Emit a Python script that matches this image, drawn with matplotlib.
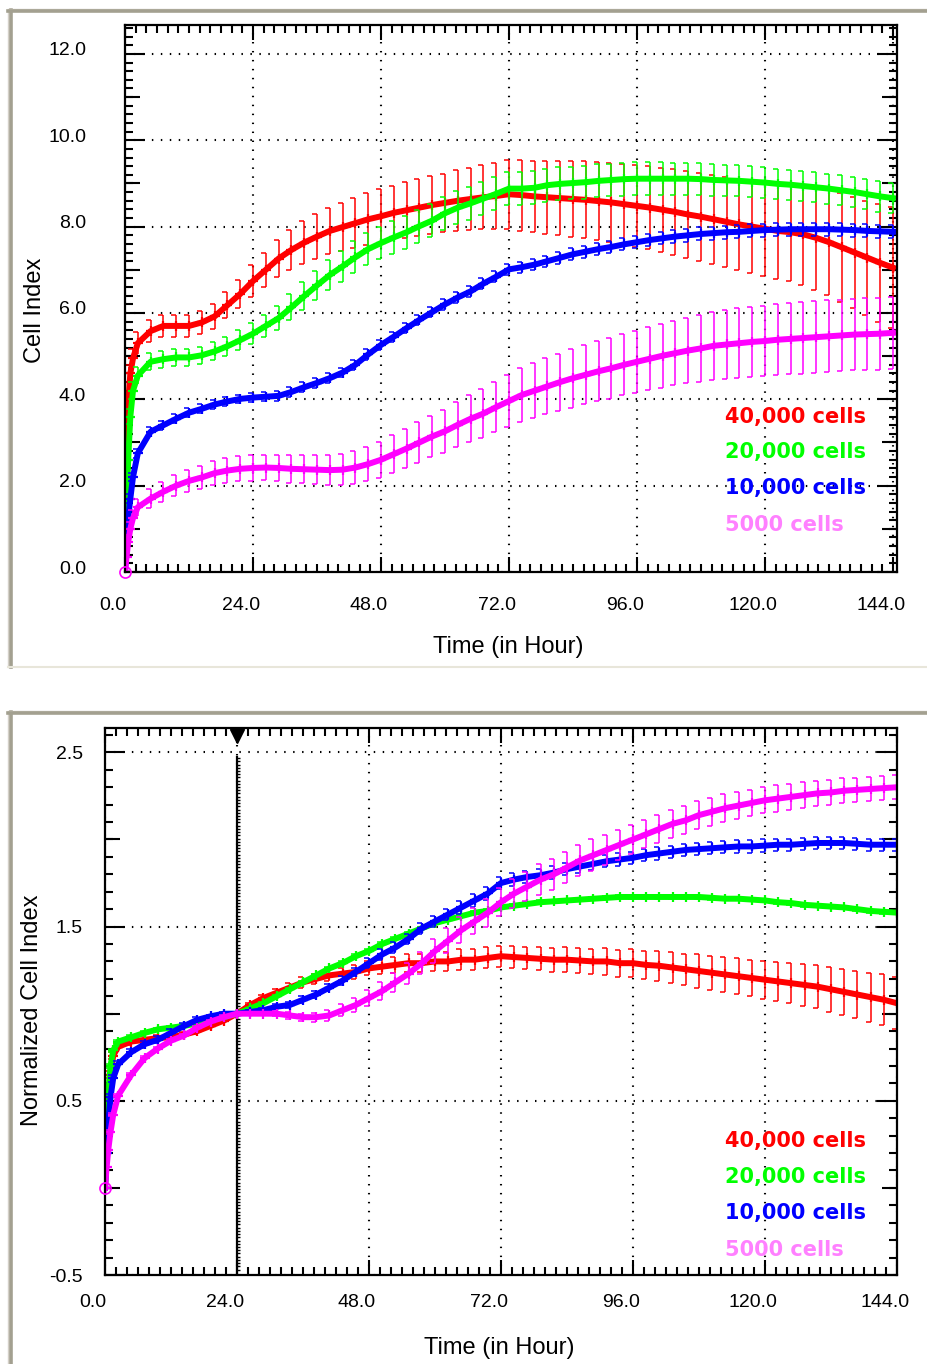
import numpy as np
import matplotlib
matplotlib.use('Agg')
import matplotlib.pyplot as plt
from matplotlib.lines import Line2D
from matplotlib.ticker import MultipleLocator, FormatStrFormatter
from matplotlib.transforms import ScaledTranslation

plt.rcParams['font.family'] = ['Liberation Sans', 'DejaVu Sans']

##########
# Data   #
##########
# sampling times (hours)
hours = [0.0, 0.3, 0.6, 1.0, 1.5,
         2.4, 4.8, 7.2, 9.6, 12.0, 14.4, 16.8, 19.2, 21.6, 24.0,
         26.4, 28.8, 31.2, 33.6, 36.0, 38.4, 40.8, 43.2, 45.6, 48.0,
         50.4, 52.8, 55.2, 57.6, 60.0, 62.4, 64.8, 67.2, 69.6, 72.0,
         74.4, 76.8, 79.2, 81.6, 84.0, 86.4, 88.8, 91.2, 93.6, 96.0,
         98.4, 100.8, 103.2, 105.6, 108.0, 110.4, 112.8, 115.2, 117.6, 120.0,
         122.4, 124.8, 127.2, 129.6, 132.0, 134.4, 136.8, 139.2, 141.6, 144.0]

labels = ['40,000 cells', '20,000 cells', '10,000 cells', '5000 cells']
norm_time = 24.0

# cell index, mean and sd
ci_40k = [0.0, 3.0, 3.9, 4.6, 4.95,
          5.3, 5.58, 5.7, 5.7, 5.7, 5.78, 5.92, 6.18, 6.44, 6.74,
          7.0, 7.26, 7.46, 7.63, 7.77, 7.9, 7.99, 8.08, 8.17, 8.24,
          8.32, 8.38, 8.44, 8.5, 8.55, 8.6, 8.64, 8.68, 8.71, 8.75,
          8.73, 8.7, 8.68, 8.66, 8.64, 8.62, 8.59, 8.56, 8.52, 8.48,
          8.44, 8.39, 8.34, 8.28, 8.23, 8.17, 8.11, 8.05, 8.0, 7.95,
          7.9, 7.87, 7.82, 7.74, 7.64, 7.52, 7.4, 7.28, 7.16, 7.05]
ci_40k_sd = [0.0, 0.15, 0.2, 0.2, 0.22,
             0.25, 0.25, 0.25, 0.25, 0.25, 0.26, 0.28, 0.3, 0.33, 0.36,
             0.4, 0.43, 0.46, 0.5, 0.52, 0.54, 0.56, 0.58, 0.6, 0.62,
             0.63, 0.65, 0.66, 0.67, 0.68, 0.7, 0.72, 0.74, 0.77, 0.8,
             0.82, 0.83, 0.84, 0.86, 0.88, 0.89, 0.9, 0.92, 0.93, 0.95,
             0.96, 0.97, 0.99, 1.0, 1.02, 1.03, 1.05, 1.06, 1.08, 1.1,
             1.12, 1.14, 1.17, 1.2, 1.23, 1.26, 1.29, 1.32, 1.36, 1.4]

ci_20k = [0.0, 1.6, 2.6, 3.6, 4.2,
          4.55, 4.87, 4.93, 4.97, 4.97, 5.02, 5.11, 5.23, 5.37, 5.52,
          5.7, 5.88, 6.13, 6.39, 6.64, 6.88, 7.08, 7.29, 7.48, 7.62,
          7.75, 7.87, 8.01, 8.14, 8.31, 8.44, 8.54, 8.65, 8.76, 8.88,
          8.88, 8.9, 8.96, 8.99, 9.01, 9.03, 9.06, 9.08, 9.1, 9.11,
          9.11, 9.11, 9.11, 9.11, 9.1, 9.08, 9.07, 9.06, 9.04, 9.02,
          8.99, 8.97, 8.94, 8.91, 8.88, 8.84, 8.8, 8.75, 8.7, 8.66]
ci_20k_sd = [0.0, 0.1, 0.15, 0.18, 0.2,
             0.2, 0.2, 0.2, 0.2, 0.2, 0.2, 0.21, 0.22, 0.23, 0.25,
             0.26, 0.28, 0.3, 0.32, 0.34, 0.35, 0.36, 0.37, 0.38, 0.38,
             0.38, 0.38, 0.38, 0.38, 0.38, 0.38, 0.38, 0.38, 0.38, 0.38,
             0.38, 0.38, 0.38, 0.38, 0.38, 0.38, 0.38, 0.38, 0.38, 0.38,
             0.38, 0.38, 0.37, 0.37, 0.37, 0.36, 0.36, 0.36, 0.36, 0.35,
             0.35, 0.35, 0.35, 0.35, 0.35, 0.35, 0.35, 0.35, 0.35, 0.35]

ci_10k = [0.0, 0.8, 1.25, 1.7, 2.2,
          2.75, 3.25, 3.4, 3.55, 3.69, 3.78, 3.88, 3.95, 4.01, 4.04,
          4.06, 4.08, 4.17, 4.28, 4.38, 4.49, 4.62, 4.8, 5.04, 5.26,
          5.45, 5.65, 5.84, 6.02, 6.2, 6.36, 6.5, 6.68, 6.84, 7.01,
          7.06, 7.12, 7.2, 7.28, 7.36, 7.42, 7.48, 7.53, 7.59, 7.64,
          7.69, 7.73, 7.77, 7.8, 7.83, 7.85, 7.87, 7.88, 7.9, 7.92,
          7.93, 7.94, 7.94, 7.94, 7.94, 7.93, 7.92, 7.9, 7.89, 7.88]
ci_10k_sd = [0.0, 0.05, 0.08, 0.1, 0.1,
             0.1, 0.1, 0.1, 0.1, 0.1, 0.1, 0.1, 0.1, 0.1, 0.1,
             0.11, 0.11, 0.11, 0.11, 0.11, 0.11, 0.11, 0.11, 0.12, 0.12,
             0.12, 0.12, 0.12, 0.12, 0.12, 0.13, 0.13, 0.13, 0.13, 0.13,
             0.13, 0.13, 0.13, 0.14, 0.14, 0.14, 0.14, 0.14, 0.14, 0.14,
             0.14, 0.14, 0.15, 0.15, 0.15, 0.15, 0.15, 0.15, 0.15, 0.15,
             0.15, 0.15, 0.15, 0.15, 0.15, 0.15, 0.15, 0.15, 0.15, 0.15]

ci_5k = [0.0, 0.35, 0.7, 1.0, 1.25,
         1.5, 1.7, 1.86, 2.0, 2.11, 2.19, 2.29, 2.35, 2.39, 2.41,
         2.42, 2.41, 2.39, 2.38, 2.37, 2.36, 2.37, 2.42, 2.5, 2.6,
         2.73, 2.86, 3.0, 3.14, 3.26, 3.41, 3.55, 3.67, 3.82, 3.96,
         4.1, 4.2, 4.3, 4.4, 4.49, 4.57, 4.65, 4.72, 4.8, 4.87,
         4.94, 5.01, 5.07, 5.13, 5.18, 5.24, 5.27, 5.3, 5.33, 5.35,
         5.38, 5.4, 5.42, 5.44, 5.46, 5.48, 5.5, 5.51, 5.52, 5.54]
ci_5k_sd = [0.0, 0.08, 0.12, 0.15, 0.18,
            0.2, 0.22, 0.23, 0.24, 0.25, 0.26, 0.27, 0.28, 0.29, 0.3,
            0.3, 0.31, 0.32, 0.33, 0.34, 0.35, 0.36, 0.38, 0.4, 0.42,
            0.44, 0.45, 0.47, 0.48, 0.5, 0.52, 0.54, 0.56, 0.58, 0.6,
            0.62, 0.63, 0.65, 0.66, 0.68, 0.69, 0.7, 0.71, 0.71, 0.72,
            0.73, 0.74, 0.75, 0.76, 0.78, 0.79, 0.8, 0.81, 0.81, 0.82,
            0.82, 0.82, 0.83, 0.83, 0.83, 0.83, 0.83, 0.83, 0.83, 0.83]

# normalized cell index (to 24 h), mean and sd
nci_40k = [0.0, 0.3, 0.5, 0.65, 0.76,
           0.81, 0.84, 0.85, 0.86, 0.865, 0.88, 0.9, 0.93, 0.96, 1.0,
           1.05, 1.09, 1.12, 1.15, 1.18, 1.2, 1.22, 1.23, 1.24, 1.26,
           1.27, 1.28, 1.29, 1.29, 1.3, 1.3, 1.31, 1.31, 1.32, 1.33,
           1.325, 1.32, 1.315, 1.31, 1.31, 1.305, 1.3, 1.3, 1.29, 1.29,
           1.28, 1.275, 1.265, 1.255, 1.245, 1.235, 1.225, 1.215, 1.205, 1.195,
           1.185, 1.175, 1.165, 1.155, 1.14, 1.125, 1.11, 1.095, 1.08, 1.06]
nci_40k_sd = [0.0, 0.01, 0.02, 0.02, 0.02,
              0.02, 0.02, 0.02, 0.02, 0.02, 0.015, 0.015, 0.01, 0.01, 0.0,
              0.01, 0.015, 0.02, 0.025, 0.03, 0.03, 0.035, 0.035, 0.04, 0.04,
              0.045, 0.045, 0.05, 0.05, 0.055, 0.055, 0.06, 0.06, 0.06, 0.06,
              0.062, 0.064, 0.066, 0.068, 0.07, 0.072, 0.074, 0.076, 0.078, 0.08,
              0.082, 0.085, 0.088, 0.09, 0.095, 0.098, 0.1, 0.103, 0.106, 0.11,
              0.113, 0.116, 0.12, 0.124, 0.128, 0.132, 0.136, 0.14, 0.145, 0.15]

nci_20k = [0.0, 0.35, 0.55, 0.7, 0.79,
           0.84, 0.865, 0.89, 0.91, 0.92, 0.93, 0.945, 0.96, 0.98, 1.0,
           1.03, 1.06, 1.1, 1.14, 1.18, 1.22, 1.26, 1.29, 1.33, 1.36,
           1.4, 1.43, 1.46, 1.49, 1.52, 1.54, 1.56, 1.58, 1.59, 1.61,
           1.62, 1.63, 1.64, 1.645, 1.65, 1.655, 1.66, 1.665, 1.67, 1.67,
           1.67, 1.67, 1.67, 1.67, 1.67, 1.665, 1.66, 1.66, 1.655, 1.65,
           1.64, 1.635, 1.625, 1.62, 1.615, 1.61, 1.6, 1.59, 1.585, 1.58]
nci_20k_sd = [0.0, 0.01, 0.01, 0.01, 0.01,
              0.01, 0.01, 0.01, 0.01, 0.01, 0.01, 0.01, 0.01, 0.005, 0.0,
              0.005, 0.01, 0.01, 0.01, 0.01, 0.01, 0.01, 0.01, 0.01, 0.01,
              0.01, 0.01, 0.01, 0.01, 0.01, 0.01, 0.01, 0.01, 0.01, 0.01,
              0.01, 0.01, 0.01, 0.01, 0.01, 0.01, 0.01, 0.01, 0.01, 0.01,
              0.01, 0.01, 0.01, 0.01, 0.01, 0.01, 0.01, 0.01, 0.01, 0.01,
              0.01, 0.01, 0.01, 0.01, 0.01, 0.01, 0.01, 0.01, 0.01, 0.01]

nci_10k = [0.0, 0.2, 0.38, 0.52, 0.63,
           0.71, 0.78, 0.825, 0.85, 0.89, 0.93, 0.965, 0.985, 1.0, 1.0,
           1.01, 1.02, 1.04, 1.05, 1.08, 1.11, 1.15, 1.19, 1.24, 1.29,
           1.34, 1.38, 1.43, 1.49, 1.53, 1.57, 1.61, 1.65, 1.69, 1.75,
           1.77, 1.785, 1.795, 1.81, 1.83, 1.845, 1.86, 1.875, 1.885, 1.895,
           1.91, 1.92, 1.93, 1.94, 1.945, 1.95, 1.955, 1.96, 1.96, 1.965,
           1.97, 1.97, 1.975, 1.98, 1.98, 1.98, 1.975, 1.97, 1.97, 1.97]
nci_10k_sd = [0.0, 0.01, 0.02, 0.02, 0.02,
              0.02, 0.02, 0.02, 0.02, 0.02, 0.015, 0.015, 0.01, 0.01, 0.0,
              0.01, 0.01, 0.015, 0.015, 0.02, 0.02, 0.02, 0.025, 0.025, 0.03,
              0.03, 0.03, 0.03, 0.03, 0.03, 0.03, 0.035, 0.035, 0.035, 0.035,
              0.035, 0.035, 0.035, 0.035, 0.035, 0.035, 0.035, 0.035, 0.035, 0.035,
              0.035, 0.035, 0.035, 0.035, 0.035, 0.035, 0.035, 0.035, 0.035, 0.035,
              0.035, 0.035, 0.035, 0.035, 0.035, 0.035, 0.035, 0.035, 0.035, 0.035]

nci_5k = [0.0, 0.12, 0.22, 0.32, 0.42,
          0.53, 0.65, 0.745, 0.8, 0.845, 0.875, 0.92, 0.955, 0.98, 1.0,
          1.0, 1.0, 1.0, 0.99, 0.98, 0.98, 0.99, 1.02, 1.05, 1.09,
          1.13, 1.18, 1.23, 1.29, 1.36, 1.42, 1.48, 1.53, 1.58, 1.64,
          1.69, 1.73, 1.77, 1.8, 1.84, 1.88, 1.91, 1.94, 1.97, 2.0,
          2.03, 2.06, 2.09, 2.11, 2.14, 2.16, 2.18, 2.195, 2.21, 2.225,
          2.235, 2.245, 2.255, 2.265, 2.27, 2.28, 2.285, 2.29, 2.295, 2.3]
nci_5k_sd = [0.0, 0.01, 0.01, 0.01, 0.01,
             0.01, 0.01, 0.01, 0.01, 0.01, 0.01, 0.01, 0.01, 0.01, 0.0,
             0.01, 0.01, 0.015, 0.02, 0.02, 0.025, 0.03, 0.035, 0.04, 0.045,
             0.05, 0.055, 0.06, 0.065, 0.07, 0.07, 0.075, 0.075, 0.08, 0.08,
             0.085, 0.085, 0.09, 0.09, 0.09, 0.09, 0.09, 0.085, 0.085, 0.085,
             0.08, 0.08, 0.08, 0.08, 0.08, 0.08, 0.08, 0.078, 0.076, 0.075,
             0.075, 0.074, 0.073, 0.072, 0.072, 0.071, 0.07, 0.07, 0.07, 0.07]

line_colors = ['#ff0000', '#00ff00', '#0000ff', '#ff00ff']
text_colors = ['#ff0000', '#00ff00', '#0000ff', '#ff80ff']

##########
# Figure #
##########
W, H = 928, 1364
fig = plt.figure(figsize=(W / 100, H / 100), dpi=100)
fig.patch.set_facecolor('white')


def px_box(left, top, right, bottom):
    # pixel box -> figure fraction rect
    return [left / W, 1 - bottom / H, (right - left) / W, (bottom - top) / H]


def draw_frame(top, bottom):
    # window-style bevel round each panel
    grey = '#a3a090'
    fig.add_artist(Line2D([8.5 / W] * 2, [1 - top / H, 1 - bottom / H], color='#d4d0c8', lw=1))
    fig.add_artist(Line2D([11 / W] * 2, [1 - top / H, 1 - bottom / H], color=grey, lw=2.6))
    fig.add_artist(Line2D([8 / W, 1], [1 - (top - 1.5) / H] * 2, color='#d4d0c8', lw=1))
    fig.add_artist(Line2D([8 / W, 1], [1 - (top + 1) / H] * 2, color=grey, lw=2.6))
    fig.add_artist(Line2D([8 / W, 1], [1 - bottom / H] * 2, color='#e8e6da', lw=1.5))


def style_axes(ax, xlim, ylim, ymajor, ymid, yminor, ylabel_pad, xlabel_pad, ylab_shift):
    ax.set_xlim(*xlim)
    ax.set_ylim(*ylim)
    ax.set_xticks(np.arange(0, 145, 24))
    ax.xaxis.set_minor_locator(MultipleLocator(2))
    ax.set_yticks(ymajor)
    ax.yaxis.set_minor_locator(MultipleLocator(yminor))
    ax.xaxis.set_major_formatter(FormatStrFormatter('%.1f'))
    ax.yaxis.set_major_formatter(FormatStrFormatter('%.1f'))
    for sp in ax.spines.values():
        sp.set_linewidth(1.6)
    ax.tick_params(which='both', direction='in', top=True, right=True, width=1.5,
                   labelsize=14, colors='black')
    ax.tick_params(axis='y', which='major', length=14.5, pad=ylabel_pad)
    ax.tick_params(axis='x', which='major', length=10.5, pad=xlabel_pad)
    ax.tick_params(which='minor', length=5.5)
    ax.grid(which='major', color='black', linestyle=(0, (0.7, 3.6)), lw=1.5)
    # medium ticks between labelled values
    for side in ('left', 'right'):
        sec = ax.secondary_yaxis(side)
        sec.set_yticks(ymid)
        sec.set_yticklabels([])
        sec.tick_params(direction='in', length=10.5, width=1.5)
        sec.spines[side].set_visible(False)
    # tick labels sit a little left of / above their ticks
    shift_x = ScaledTranslation(-12 / 100, 0, fig.dpi_scale_trans)
    for tk in ax.xaxis.get_major_ticks():
        tk.label1.set_transform(tk.label1.get_transform() + shift_x)
    shift_y = ScaledTranslation(0, ylab_shift / 100, fig.dpi_scale_trans)
    for tk in ax.yaxis.get_major_ticks():
        tk.label1.set_transform(tk.label1.get_transform() + shift_y)


def draw_series(ax, y, err, color):
    t = np.asarray(hours)
    y = np.asarray(y)
    err = np.asarray(err)
    ax.vlines(t, y - err, y + err, color=color, lw=1.1)
    ax.plot(t, y + err, ls='none', marker=0, ms=3.5, mew=1.1, color=color)
    ax.plot(t, y - err, ls='none', marker=0, ms=3.5, mew=1.1, color=color)
    ax.plot(t, y, color=color, lw=4.3, marker='+', ms=7, mew=1.6)


def draw_labels(ax, x, ys):
    for lab, c, yy in zip(labels, text_colors, ys):
        ax.text(x, yy, lab, transform=ax.transAxes, color=c, fontsize=15,
                fontweight='bold', family='DejaVu Sans', va='center', ha='left')


draw_frame(10, 667)
draw_frame(712, H + 5)

###########################
# Top panel: cell index   #
###########################
ax1 = fig.add_axes(px_box(125, 25, 897, 572))
style_axes(ax1, (0, 144.75), (0, 12.67), np.arange(0, 12.1, 2), np.arange(1, 12, 2), 0.2,
           ylabel_pad=28, xlabel_pad=18, ylab_shift=5)
top_series = [(ci_40k, ci_40k_sd), (ci_20k, ci_20k_sd), (ci_10k, ci_10k_sd), (ci_5k, ci_5k_sd)]
for (y, e), c in zip(top_series, line_colors):
    draw_series(ax1, y, e, c)
ax1.plot(hours[0], ci_5k[0], marker='o', ms=8, mfc='none', mec='#ff00ff', mew=1.2, clip_on=False, zorder=5)
ax1.set_xlabel('Time (in Hour)', fontsize=17)
ax1.set_ylabel('Cell Index', fontsize=17)
ax1.xaxis.label.set_va('center')
ax1.yaxis.label.set_va('center')
ax1.xaxis.set_label_coords(0.496, -0.137)
ax1.yaxis.set_label_coords(-0.116, 0.479)
draw_labels(ax1, 0.777, [0.283, 0.219, 0.154, 0.086])

#######################################
# Bottom panel: normalized cell index #
#######################################
ax2 = fig.add_axes(px_box(105, 728, 897, 1275))
style_axes(ax2, (0, 144), (-0.5, 2.64), [-0.5, 0.5, 1.5, 2.5], [0.0, 1.0, 2.0], 0.1,
           ylabel_pad=16, xlabel_pad=14, ylab_shift=0)
bottom_series = [(nci_40k, nci_40k_sd), (nci_20k, nci_20k_sd), (nci_10k, nci_10k_sd), (nci_5k, nci_5k_sd)]
for (y, e), c in zip(bottom_series, line_colors):
    draw_series(ax2, y, e, c)
ax2.plot(hours[0], nci_5k[0], marker='o', ms=8, mfc='none', mec='#ff00ff', mew=1.2, clip_on=False, zorder=5)

# normalization time marker
xt = ax2.get_xaxis_transform()
ax2.plot([norm_time, norm_time], [0, 0.947], transform=xt, color='black', lw=1.6, zorder=1)
ax2.plot([norm_time] * 160, np.linspace(0.01, 0.945, 160), transform=xt, ls='none',
         marker=1, ms=2.5, mew=1, color='black', zorder=1)
ax2.plot([norm_time], [0.986], transform=xt, marker='v', ms=10, color='black', clip_on=False)

ax2.set_xlabel('Time (in Hour)', fontsize=17)
ax2.set_ylabel('Normalized Cell Index', fontsize=17)
ax2.xaxis.label.set_va('center')
ax2.yaxis.label.set_va('center')
ax2.xaxis.set_label_coords(0.498, -0.133)
ax2.yaxis.set_label_coords(-0.092, 0.484)
draw_labels(ax2, 0.783, [0.245, 0.179, 0.113, 0.046])

fig.savefig('out.png', dpi=100)
